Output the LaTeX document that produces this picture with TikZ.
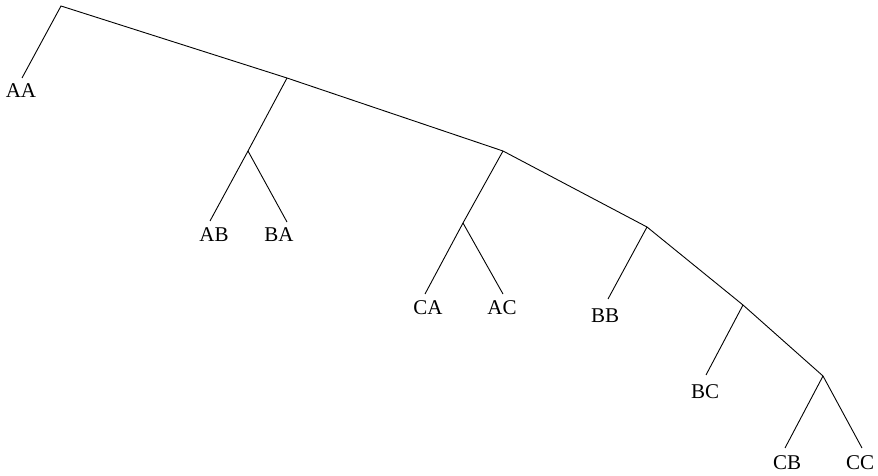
\documentclass[tikz,border=0pt]{standalone}
\usepackage{fontspec}
\setmainfont{Liberation Serif}
\begin{document}
\begin{tikzpicture}[x=1pt,y=-1pt,
  edge/.style={draw=black,line width=0.9pt},
  leaf/.style={font=\fontsize{21}{23}\selectfont,inner sep=0pt,anchor=center}]
\useasboundingbox (0,0) rectangle (878,476);
% internal points
\coordinate (root) at (61,6);
\coordinate (n1) at (287,78);
\coordinate (n1a) at (248,151);
\coordinate (n2) at (503,151);
\coordinate (n2a) at (463,223);
\coordinate (n3) at (647,227);
\coordinate (n4) at (743,305);
\coordinate (n5) at (823,376);
% leaf ends
\coordinate (eAA) at (22,78);
\coordinate (eAB) at (210,221);
\coordinate (eBA) at (287,222);
\coordinate (eCA) at (425,294);
\coordinate (eAC) at (503,294);
\coordinate (eBB) at (608,299);
\coordinate (eBC) at (706,375);
\coordinate (eCB) at (785,448);
\coordinate (eCC) at (862,448);
% labels
\node[leaf] (AA) at (21,91) {AA};
\node[leaf] (AB) at (214,235) {AB};
\node[leaf] (BA) at (279,235) {BA};
\node[leaf] (CA) at (428,308) {CA};
\node[leaf] (AC) at (502,308) {AC};
\node[leaf] (BB) at (605,316) {BB};
\node[leaf] (BC) at (705,392) {BC};
\node[leaf] (CB) at (787,463) {CB};
\node[leaf] (CC) at (860,463) {CC};
% edges
\draw[edge] (eAA) -- (root) -- (n1) -- (n2) -- (n3) -- (n4) -- (n5);
\draw[edge] (n1) -- (n1a);
\draw[edge] (n1a) -- (eAB);
\draw[edge] (n1a) -- (eBA);
\draw[edge] (n2) -- (n2a);
\draw[edge] (n2a) -- (eCA);
\draw[edge] (n2a) -- (eAC);
\draw[edge] (n3) -- (eBB);
\draw[edge] (n4) -- (eBC);
\draw[edge] (n5) -- (eCB);
\draw[edge] (n5) -- (eCC);
\end{tikzpicture}
\end{document}
